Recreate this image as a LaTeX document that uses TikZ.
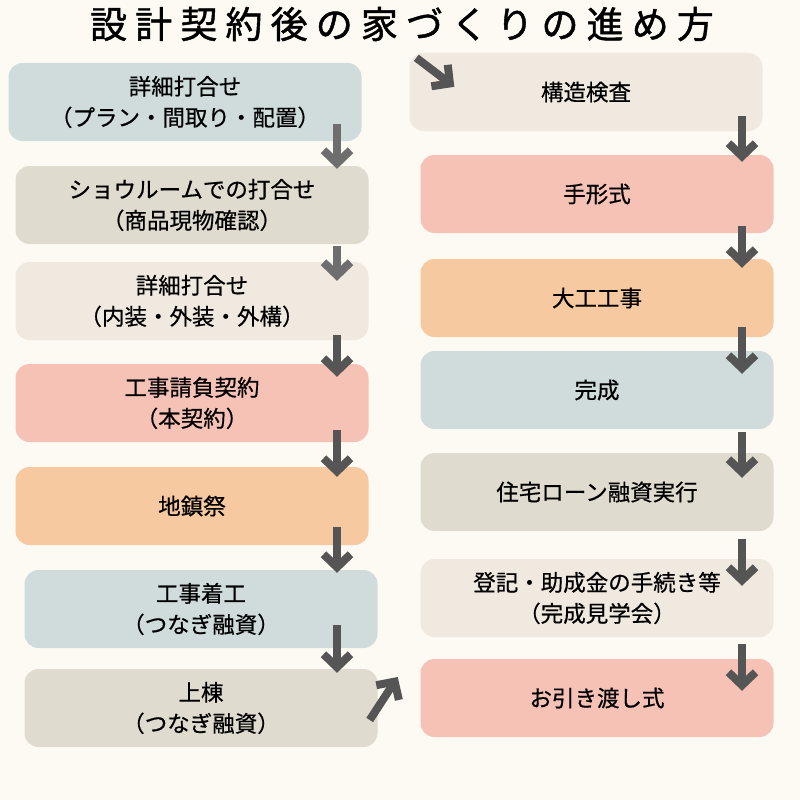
\documentclass[tikz,border=0pt]{standalone}
\usepackage{fontspec}
\setmainfont{Noto Sans CJK JP}
\usetikzlibrary{arrows.meta,calc}

\definecolor{bgcream}{HTML}{FDFAF3}
\definecolor{bluegrey}{HTML}{CFDCDB}
\definecolor{beige}{HTML}{DFDBCE}
\definecolor{cream}{HTML}{F0E9E0}
\definecolor{pink}{HTML}{F5C2B5}
\definecolor{peach}{HTML}{F6C9A0}
\definecolor{arrowgray}{HTML}{555555}
\definecolor{arrowlight}{HTML}{6E6E6E}

\begin{document}
\begin{tikzpicture}[
      x=1pt, y=-1pt,
      >={Straight Barb[length=13pt,width=27pt]},
      flowbox/.style={rectangle, rounded corners=14pt, minimum width=353pt, minimum height=78pt, inner sep=0pt, align=center, font=\fontsize{22.5}{31}\selectfont\addfontfeature{FakeBold=0.6}},
      flowarrow/.style={->, line width=8pt}
    ]

    % Hintergrund
    \fill[bgcream] (0,0) rectangle (800,800);
    \useasboundingbox (0,0) rectangle (800,800);

    % Titel
    \node (title) at (402,24) {\fontsize{37}{37}\selectfont\addfontfeature{LetterSpace=22,FakeBold=1.2}設計契約後の家づくりの進め方};

    % linke Spalte
    \node[flowbox, fill=bluegrey] (l1) at (185,102) {詳細打合せ\\（プラン・間取り・配置）};
    \node[flowbox, fill=beige] (l2) at (192,205) {ショウルームでの打合せ\\（商品現物確認）};
    \node[flowbox, fill=cream] (l3) at (192,301) {詳細打合せ\\（内装・外装・外構）};
    \node[flowbox, fill=pink] (l4) at (192,403) {工事請負契約\\（本契約）};
    \node[flowbox, fill=peach] (l5) at (192,506) {地鎮祭};
    \node[flowbox, fill=bluegrey] (l6) at (201,609) {工事着工\\（つなぎ融資）};
    \node[flowbox, fill=beige] (l7) at (201,708) {上棟\\（つなぎ融資）};

    % rechte Spalte
    \node[flowbox, fill=cream] (r1) at (586,92) {構造検査};
    \node[flowbox, fill=pink] (r2) at (597,194) {手形式};
    \node[flowbox, fill=peach] (r3) at (597,298) {大工工事};
    \node[flowbox, fill=bluegrey] (r4) at (597,390) {完成};
    \node[flowbox, fill=beige] (r5) at (597,492) {住宅ローン融資実行};
    \node[flowbox, fill=cream] (r6) at (597,598) {登記・助成金の手続き等\\（完成見学会）};
    \node[flowbox, fill=pink] (r7) at (597,698) {お引き渡し式};

    % Pfeile
    \coordinate (lcol) at (337,0);
    \coordinate (rcol) at (742,0);
    \foreach \a/\b/\s/\e/\c in {l1/l2/17/3/arrowlight, l2/l3/-2/19/arrowlight, l3/l4/5/13/arrowgray,
        l4/l5/12/10/arrowgray, l5/l6/18/3/arrowgray, l6/l7/23/4/arrowgray}
      \draw[flowarrow, draw=\c] ([yshift=\s pt]\a.south -| lcol) -- ([yshift=-\e pt]\b.north -| lcol);
    \foreach \a/\b/\s/\e in {r1/r2/15/7, r2/r3/7/9, r3/r4/10/23, r4/r5/-3/25, r5/r6/-8/27, r6/r7/-7/32}
      \draw[flowarrow, draw=arrowgray] ([yshift=\s pt]\a.south -| rcol) -- ([yshift=-\e pt]\b.north -| rcol);

    \draw[flowarrow, draw=arrowgray] ($(l7.east)+(-8,12)$) -- ($(l7.east)+(20,-31)$);
    \draw[flowarrow, draw=arrowgray] ($(r1.north west)+(7,5)$) -- ($(r1.north west)+(45,34)$);

  \end{tikzpicture}
\end{document}
